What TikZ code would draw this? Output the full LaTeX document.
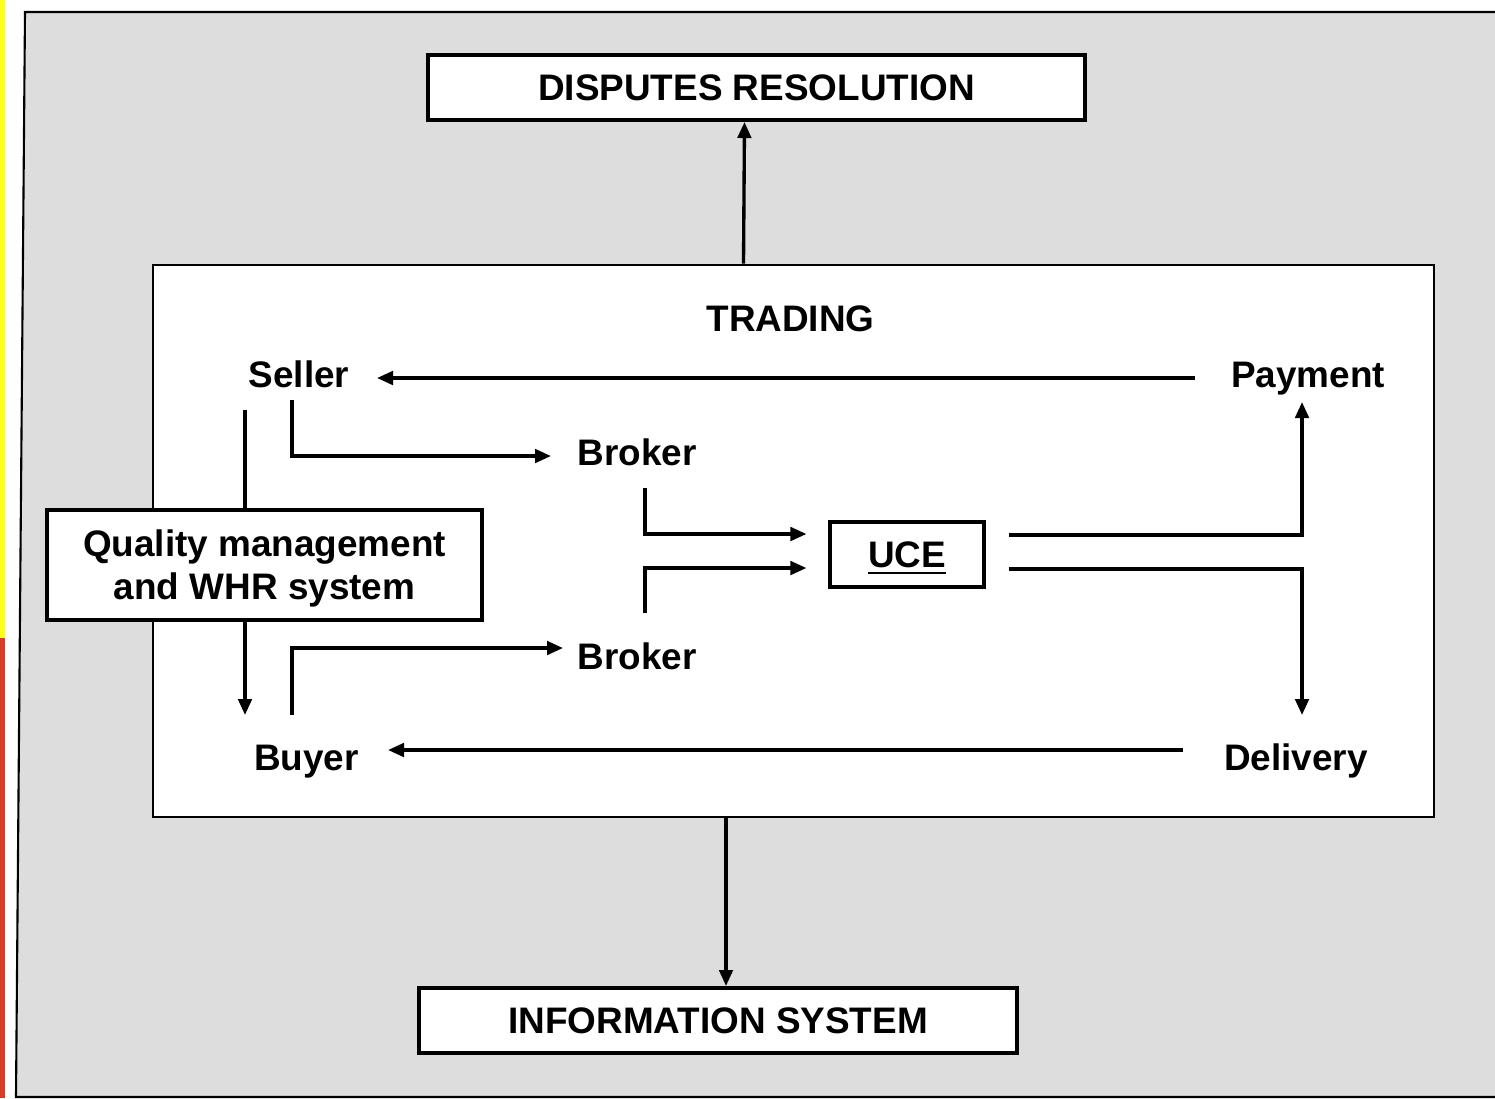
\documentclass[tikz,border=0pt]{standalone}
\usepackage{fontspec}
\setmainfont{Liberation Sans}
\usetikzlibrary{positioning,arrows.meta}

\definecolor{panelgray}{HTML}{DDDDDD}
\definecolor{stripyellow}{HTML}{FFFF1A}
\definecolor{stripred}{HTML}{D63C28}

\begin{document}
\begin{tikzpicture}[
    x=0.1mm,y=-0.1mm,
    every node/.style={
      font=\fontsize{10.5}{12.2}\selectfont\bfseries
    },
    word/.style={
      inner sep=0pt,text height=0.75em,text depth=0.2em
    },
    bigbox/.style={
      draw,line width=1.15pt,fill=white,inner sep=0pt,
      text height=0.75em,text depth=0pt
    },
    flow/.style={
      line width=0.95pt,
      -{Triangle[length=1.6mm,width=1.35mm]}
    }]

      \useasboundingbox (0,0) rectangle (1495,1098);
      \fill[white] (0,0) rectangle (1495,1098);
      \fill[stripyellow] (0,0) rectangle (5,638);
      \fill[stripred] (0,638) rectangle (5,1098);
      \filldraw[fill=panelgray,line width=0.6pt]
        (25,12) -- (1500,12) -- (1500,1097) -- (16,1097) -- cycle;

      \node[bigbox,minimum width=65.7mm,minimum height=6.5mm] (disputes) at (756.5,87.5) {DISPUTES RESOLUTION};
      \node[bigbox,minimum width=59.8mm,minimum height=6.5mm] (info) at (718,1020.5) {INFORMATION SYSTEM};
      \node[draw,fill=white,line width=0.8pt,minimum width=128.1mm,minimum height=55.2mm] (trading) at (793.5,541) {};

      \node[word] (tradinglabel) at (790.5,322) {TRADING};
      \node[word] (seller) at (299,378) {Seller};
      \node[word] (payment) at (1308,378) {Payment};
      \node[word] (broker1) at (637,456) {Broker};
      \node[word] (broker2) at (637,660) {Broker};
      \node[word] (buyer) at (306.5,761) {Buyer};
      \node[word] (delivery) at (1296,761) {Delivery};
      \node[bigbox,line width=0.9pt,minimum width=15.4mm,minimum height=6.5mm] (uce) at (907,554.5) {\underline{UCE}};

      \draw[flow] ([shift={(-54,32)}]seller.center) -- ([shift={(-61.5,-46)}]buyer.center);
      \node[draw,line width=1.15pt,fill=white,inner sep=0pt,align=center,text depth=0pt,minimum width=43.5mm,minimum height=11mm] (quality) at (264.5,565)
        {Quality management\\and WHR system};

      \draw[flow] ([shift={(-113,0)}]payment.center) -- ([shift={(78,0)}]seller.center);
      \draw[flow] ([shift={(-113,-11)}]delivery.center) -- ([shift={(81.5,-11)}]buyer.center);

      \draw[flow] ([shift={(-7,22)}]seller.center) |- ([shift={(-86,0)}]broker1.center);
      \draw[flow] ([shift={(-14.5,-46)}]buyer.center) |- ([shift={(-74,-12)}]broker2.center);

      \draw[flow] ([shift={(8,32)}]broker1.center) |- ([shift={(-22,-20.5)}]uce.west);
      \draw[flow] ([shift={(8,-47)}]broker2.center) |- ([shift={(-22,13.5)}]uce.west);

      \draw[flow] ([shift={(23,-19.5)}]uce.east) -| ([shift={(-6,24)}]payment.center);
      \draw[flow] ([shift={(23,14.5)}]uce.east) -| ([shift={(6,-46)}]delivery.center);

      \draw[flow] ([shift={(-50,0)}]trading.north) -- ([shift={(-12,0)}]disputes.south);
      \draw[flow] ([shift={(-67.5,0)}]trading.south) -- ([shift={(8,0)}]info.north);
  \end{tikzpicture}
\end{document}
